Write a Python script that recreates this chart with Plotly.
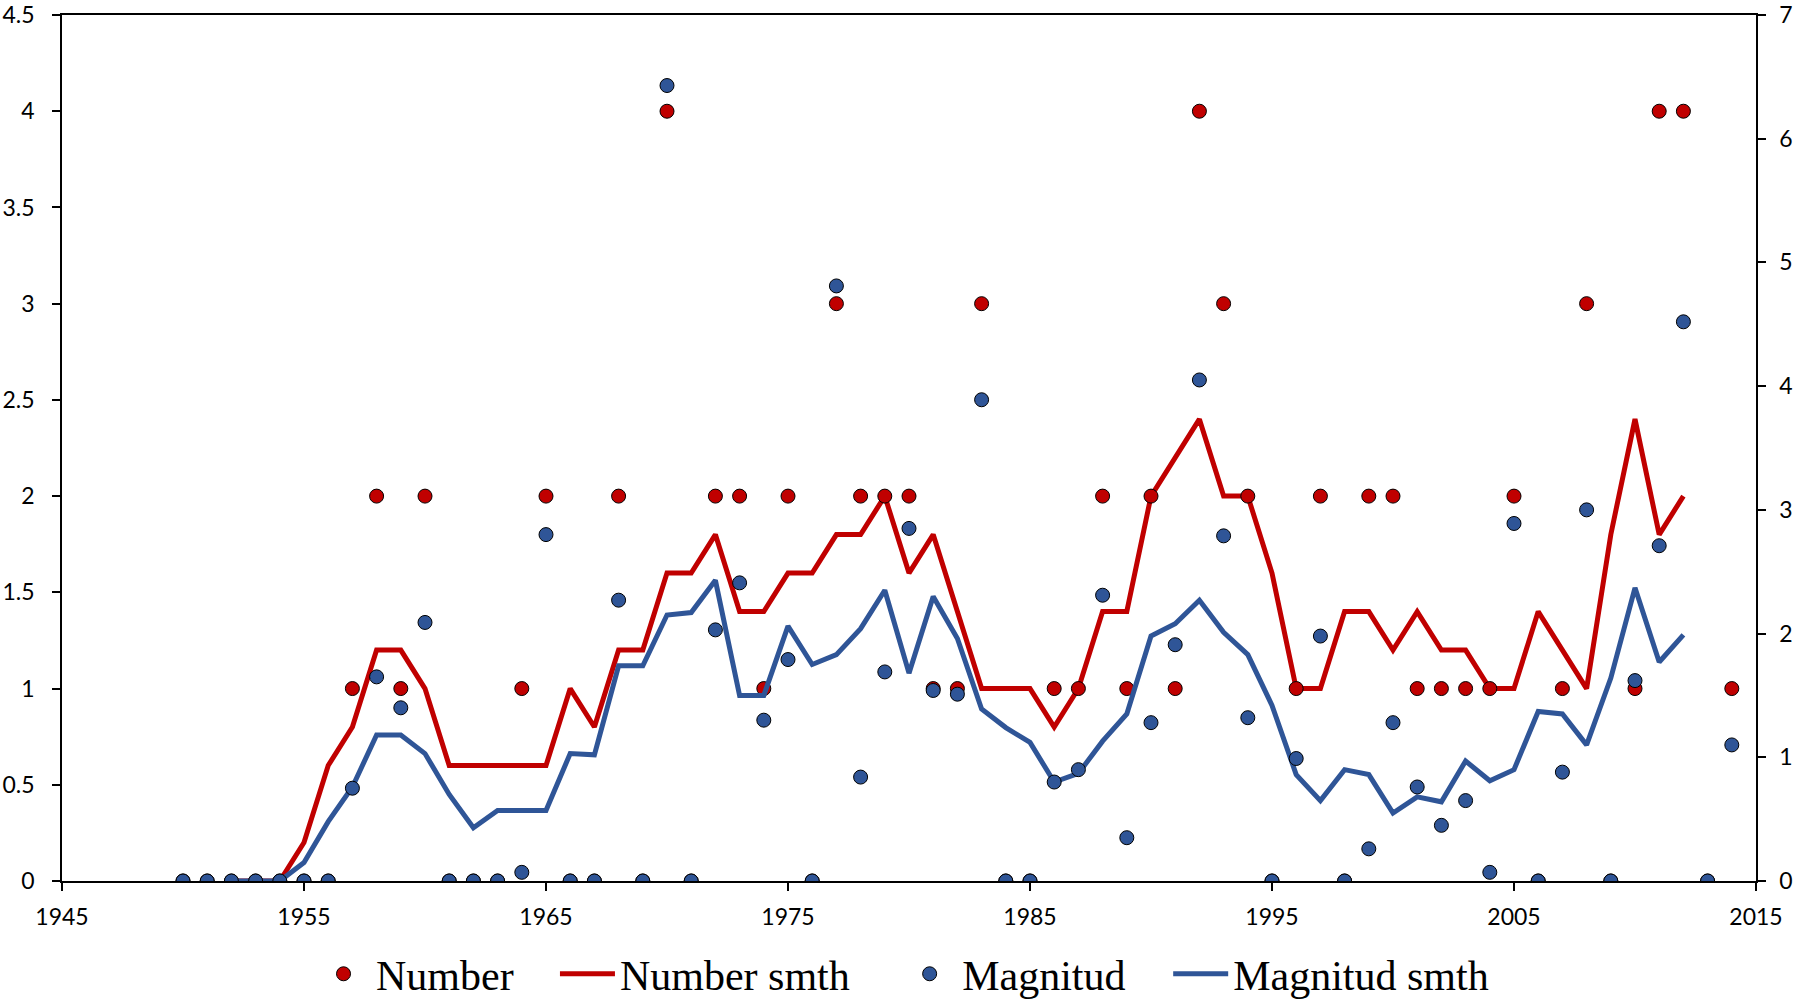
import plotly.graph_objects as go

# Yearly observations
years = [1950, 1951, 1952, 1953, 1954, 1955, 1956, 1957, 1958, 1959,
         1960, 1961, 1962, 1963, 1964, 1965, 1966, 1967, 1968, 1969,
         1970, 1971, 1972, 1973, 1974, 1975, 1976, 1977, 1978, 1979,
         1980, 1981, 1982, 1983, 1984, 1985, 1986, 1987, 1988, 1989,
         1990, 1991, 1992, 1993, 1994, 1995, 1996, 1997, 1998, 1999,
         2000, 2001, 2002, 2003, 2004, 2005, 2006, 2007, 2008, 2009,
         2010, 2011, 2012, 2013, 2014]

number = [0, 0, 0, 0, 0, 0, 0, 1, 2, 1,
          2, 0, 0, 0, 1, 2, 0, 0, 2, 0,
          4, 0, 2, 2, 1, 2, 0, 3, 2, 2,
          2, 1, 1, 3, 0, 0, 1, 1, 2, 1,
          2, 1, 4, 3, 2, 0, 1, 2, 0, 2,
          2, 1, 1, 1, 1, 2, 0, 1, 3, 0,
          1, 4, 4, 0, 1]

magnitud = [0, 0, 0, 0, 0, 0, 0, 0.75, 1.65, 1.40,
            2.09, 0, 0, 0, 0.07, 2.80, 0, 0, 2.27, 0,
            6.43, 0, 2.03, 2.41, 1.30, 1.79, 0, 4.81, 0.84, 1.69,
            2.85, 1.54, 1.51, 3.89, 0, 0, 0.80, 0.90, 2.31, 0.35,
            1.28, 1.91, 4.05, 2.79, 1.32, 0, 0.99, 1.98, 0, 0.26,
            1.28, 0.76, 0.45, 0.65, 0.07, 2.89, 0, 0.88, 3.00, 0,
            1.62, 2.71, 4.52, 0, 1.10]

# Smoothed series (1952-2012)
smth_years = [1952, 1953, 1954, 1955, 1956, 1957, 1958, 1959, 1960, 1961,
              1962, 1963, 1964, 1965, 1966, 1967, 1968, 1969, 1970, 1971,
              1972, 1973, 1974, 1975, 1976, 1977, 1978, 1979, 1980, 1981,
              1982, 1983, 1984, 1985, 1986, 1987, 1988, 1989, 1990, 1991,
              1992, 1993, 1994, 1995, 1996, 1997, 1998, 1999, 2000, 2001,
              2002, 2003, 2004, 2005, 2006, 2007, 2008, 2009, 2010, 2011,
              2012]

number_smth = [0, 0, 0, 0.2, 0.6, 0.8, 1.2, 1.2, 1.0, 0.6,
               0.6, 0.6, 0.6, 0.6, 1.0, 0.8, 1.2, 1.2, 1.6, 1.6,
               1.8, 1.4, 1.4, 1.6, 1.6, 1.8, 1.8, 2.0, 1.6, 1.8,
               1.4, 1.0, 1.0, 1.0, 0.8, 1.0, 1.4, 1.4, 2.0, 2.2,
               2.4, 2.0, 2.0, 1.6, 1.0, 1.0, 1.4, 1.4, 1.2, 1.4,
               1.2, 1.2, 1.0, 1.0, 1.4, 1.2, 1.0, 1.8, 2.4, 1.8,
               2.0]

magnitud_smth = [0, 0, 0, 0.15, 0.48, 0.76, 1.18, 1.18, 1.03, 0.70,
                 0.43, 0.57, 0.57, 0.57, 1.03, 1.02, 1.74, 1.74, 2.15, 2.17,
                 2.43, 1.50, 1.50, 2.06, 1.75, 1.83, 2.04, 2.35, 1.68, 2.30,
                 1.96, 1.39, 1.24, 1.12, 0.80, 0.87, 1.13, 1.35, 1.98, 2.08,
                 2.27, 2.01, 1.83, 1.42, 0.86, 0.65, 0.90, 0.86, 0.55, 0.68,
                 0.64, 0.97, 0.81, 0.90, 1.37, 1.35, 1.10, 1.64, 2.37, 1.77,
                 1.99]

x_ticks = [1945, 1955, 1965, 1975, 1985, 1995, 2005, 2015]
left_ticks = [0, 0.5, 1, 1.5, 2, 2.5, 3, 3.5, 4, 4.5]
left_labels = ["0", "0.5", "1", "1.5", "2", "2.5", "3", "3.5", "4", "4.5"]
right_ticks = [0, 1, 2, 3, 4, 5, 6, 7]

RED = "#C00000"
BLUE = "#2F5597"
TICK_FONT = dict(family="Lato", size=23, color="black")
LEGEND_FONT = dict(family="Liberation Serif", size=42, color="black")

fig = go.Figure()

fig.add_trace(go.Scatter(
    x=smth_years, y=number_smth, name="Number smth", mode="lines",
    line=dict(color=RED, width=5), legend="legend2", yaxis="y"))
fig.add_trace(go.Scatter(
    x=years, y=number, name="Number", mode="markers",
    marker=dict(color=RED, size=14, line=dict(color="black", width=1)),
    legend="legend", yaxis="y"))
fig.add_trace(go.Scatter(
    x=smth_years, y=magnitud_smth, name="Magnitud smth", mode="lines",
    line=dict(color=BLUE, width=5), legend="legend4", yaxis="y2"))
fig.add_trace(go.Scatter(
    x=years, y=magnitud, name="Magnitud", mode="markers",
    marker=dict(color=BLUE, size=14, line=dict(color="black", width=1)),
    legend="legend3", yaxis="y2"))


def legend_box(xpos):
    return dict(
        orientation="h", x=xpos, xanchor="left", xref="paper",
        y=0.027, yanchor="middle", yref="container",
        font=LEGEND_FONT, itemwidth=55, bgcolor="rgba(0,0,0,0)",
    )


axis_common = dict(
    ticks="outside", ticklen=8, tickcolor="black", tickwidth=1.5,
    showline=True, linecolor="black", linewidth=1.5, showgrid=False,
    zeroline=False, tickfont=TICK_FONT, automargin=False,
    ticklabeloverflow="allow",
)

fig.update_layout(
    width=1794, height=1001,
    margin=dict(l=62, r=38, t=15, b=120, autoexpand=False),
    paper_bgcolor="white", plot_bgcolor="white",
    showlegend=True,
    legend=legend_box(0.147),
    legend2=legend_box(0.291),
    legend3=legend_box(0.493),
    legend4=legend_box(0.653),
    xaxis=dict(range=[1945, 2015], tickvals=x_ticks, mirror=True,
               ticklabelstandoff=7, **axis_common),
    yaxis=dict(range=[0, 4.5], tickvals=left_ticks, ticktext=left_labels,
               ticklabelstandoff=13, **axis_common),
    yaxis2=dict(range=[0, 7], tickvals=right_ticks, overlaying="y",
                side="right", ticklabelstandoff=9, **axis_common),
)

fig.write_html("out.html")
